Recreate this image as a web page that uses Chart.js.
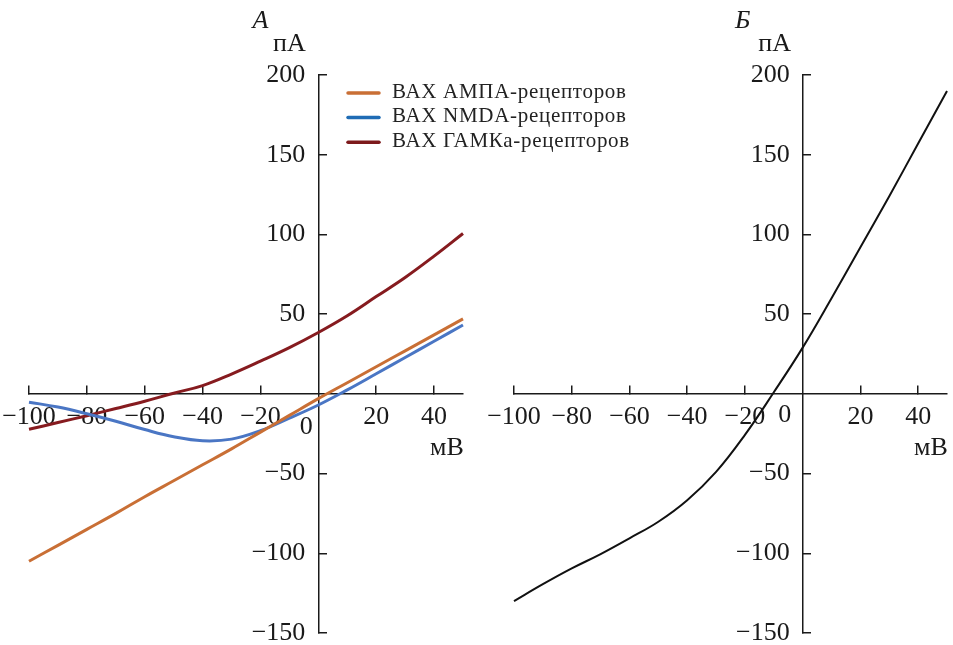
<!DOCTYPE html>
<html>
<head>
<meta charset="utf-8">
<script src="https://cdn.jsdelivr.net/npm/chart.js@4.4.1/dist/chart.umd.min.js"></script>
<style>
  html, body { margin: 0; padding: 0; background: #fff; }
  #wrap { position: relative; width: 953px; height: 645px; }
  canvas { position: absolute; top: 0; }
  #chartA { left: 0; }
  #chartB { left: 480px; }
</style>
</head>
<body>
<div id="wrap">
  <canvas id="chartA" width="953" height="645"></canvas>
  <canvas id="chartB" width="473" height="645"></canvas>
</div>
<script>
"use strict";

// membrane potential, mV
var voltage = [-100, -90, -80, -70, -60, -50, -40, -30, -20, -10, 0, 10, 20, 30, 40, 50];

// currents, pA
var ampaIV = [-105, -95, -85, -75, -64.5, -54.5, -44.5, -34.5, -24, -13.5, -3, 7, 17, 27, 37, 47];
var nmdaIV = [-5.2, -8.3, -12.5, -17.2, -22.4, -26.9, -29.4, -28.4, -23.1, -15.3, -7, 2.5, 12.6, 22.8, 33, 43.2];
var gabaIV = [-22.2, -18, -13.7, -9.2, -4.6, 0.4, 5.2, 12.4, 20.5, 29, 38.5, 49, 61, 73, 86.4, 100.6];
var totalIV = [-130, -119.4, -109.5, -100.5, -90.6, -80.2, -66.7, -48.9, -25.7, 1, 29, 60, 92, 124, 157, 190];

var seriesNames = ['ВАХ АМПА-рецепторов', 'ВАХ NMDA-рецепторов', 'ВАХ ГАМКа-рецепторов'];

// tick labels
var xTicks = [-100, -80, -60, -40, -20, 20, 40];
var yTicks = [-150, -100, -50, 50, 100, 150, 200];

var SERIF = '"Liberation Serif", "DejaVu Serif", serif';
var AXIS = '#1a1a1a';

function fmt(v) {
	return v < 0 ? '\u2212' + Math.abs(v) : String(v);
}

function points(ys) {
	return voltage.map(function (x, i) { return { x: x, y: ys[i] }; });
}

// axis captions, panel letter and the lone "0"
var captions = {
	id: 'captions',
	afterDraw: function (chart, args, o) {
		var ctx = chart.ctx;
		var sx = chart.scales.x, sy = chart.scales.y;
		var ox = sx.getPixelForValue(0), oy = sy.getPixelForValue(0);
		var top = sy.getPixelForValue(200);
		var right = sx.getPixelForValue(50);
		ctx.save();
		ctx.fillStyle = AXIS;
		ctx.textAlign = 'center';
		ctx.textBaseline = 'middle';
		ctx.font = 'italic 26px ' + SERIF;
		ctx.fillText(o.letter, ox + o.letterDx, top - 54);
		ctx.font = '26px ' + SERIF;
		ctx.fillText('пА', ox + o.unitDx, top - 31);
		ctx.fillText('мВ', right - 16, oy + 54);
		ctx.fillText('0', ox + o.zeroDx, oy + o.zeroDy);
		ctx.restore();
	}
};

// legend drawn inside panel A
var refLegend = {
	id: 'refLegend',
	afterDraw: function (chart, args, o) {
		if (!o.show) return;
		var ctx = chart.ctx;
		ctx.save();
		ctx.font = '21px ' + SERIF;
		ctx.letterSpacing = '0.7px';
		ctx.textBaseline = 'middle';
		chart.data.datasets.forEach(function (ds, i) {
			var y = 92 + i * 24.6;
			ctx.strokeStyle = o.colors[i];
			ctx.lineWidth = 3.5;
			ctx.lineCap = 'round';
			ctx.beginPath();
			ctx.moveTo(348, y + 1);
			ctx.lineTo(379, y + 1);
			ctx.stroke();
			ctx.fillStyle = '#222';
			ctx.fillText(ds.label, 392, y);
		});
		ctx.restore();
	}
};

function makePanel(id, datasets, pad, opts) {
	var ctx = document.getElementById(id).getContext('2d');
	return new Chart(ctx, {
		type: 'line',
		data: { datasets: datasets },
		options: {
			responsive: false,
			animation: false,
			devicePixelRatio: 1,
			layout: { padding: pad },
			elements: { point: { radius: 0 } },
			plugins: {
				legend: { display: false },
				tooltip: { enabled: false },
				captions: opts,
				refLegend: opts.legend
			},
			scales: {
				x: {
					type: 'linear', min: -100, max: 50,
					position: { y: 0 },
					afterBuildTicks: function (s) { s.ticks = xTicks.map(function (v) { return { value: v }; }); },
					afterFit: function (s) { s.height = 0; s.paddingLeft = 0; s.paddingRight = 0; },
					grid: { drawOnChartArea: false, tickLength: -9, color: AXIS, lineWidth: 1.5 },
					border: { color: AXIS, width: 1.5 },
					ticks: {
						callback: fmt, autoSkip: false, maxRotation: 0, padding: 17,
						color: '#1a1a1a', font: { family: SERIF, size: 26 }
					}
				},
				y: {
					type: 'linear', min: -150, max: 200,
					position: { x: 0 },
					afterBuildTicks: function (s) { s.ticks = yTicks.map(function (v) { return { value: v }; }); },
					afterFit: function (s) { s.width = 0; s.paddingTop = 0; s.paddingBottom = 0; },
					grid: { drawOnChartArea: false, tickLength: -9, color: AXIS, lineWidth: 1.5 },
					border: { color: AXIS, width: 1.5 },
					ticks: {
						// labels sit right-aligned on the axis, an en space keeps the gap
						callback: function (v) { return fmt(v) + '\u2002'; },
						autoSkip: false,
						color: '#1a1a1a', font: { family: SERIF, size: 26 }
					}
				}
			}
		},
		plugins: [captions, refLegend]
	});
}

function line(label, ys, color, width) {
	return {
		label: label,
		data: points(ys),
		borderColor: color,
		borderWidth: width,
		tension: 0.4,
		fill: false,
		clip: false
	};
}

// A: separate receptor currents
makePanel('chartA', [
	line(seriesNames[0], ampaIV, '#c96f35', 3),
	line(seriesNames[1], nmdaIV, '#4a76c4', 3),
	line(seriesNames[2], gabaIV, '#861b1f', 3)
], { left: 29, right: 490, top: 75, bottom: 12 }, {
	letter: 'А', letterDx: -58, unitDx: -29, zeroDx: -12, zeroDy: 33,
	legend: { show: true, colors: ['#c96f35', '#1f6cb5', '#7d1a1c'] }
});

// Б: summed current
makePanel('chartB', [
	line('Суммарный ток', totalIV, '#111111', 2)
], { left: 34, right: 6, top: 75, bottom: 12 }, {
	letter: 'Б', letterDx: -60, unitDx: -28, zeroDx: -18, zeroDy: 21,
	legend: { show: false }
});
</script>
</body>
</html>
